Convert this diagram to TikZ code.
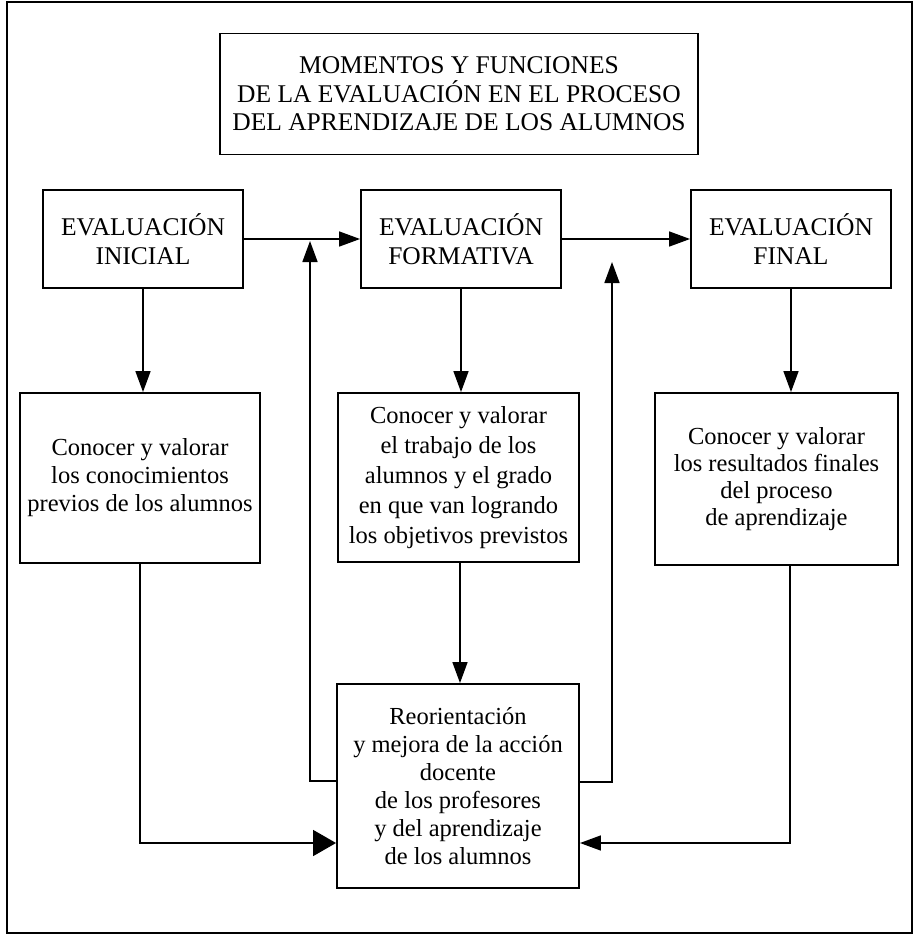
\documentclass[tikz,border=0pt]{standalone}
\usepackage{fontspec}
\setmainfont{Liberation Serif}
\usetikzlibrary{arrows.meta,calc}
\tikzset{
  box/.style={draw, line width=1.9pt, align=center, inner sep=0pt},
  conn/.style={line width=1.6pt},
  arr/.style={conn, -{Triangle[length=21pt,width=15pt]}},
  bigarr/.style={conn, -{Triangle[length=23pt,width=26pt]}},
  capsfont/.style={font=\fontsize{25.5}{28.5}\selectfont},
  bodyfont/.style={font=\fontsize{24.5}{28}\selectfont},
}
\begin{document}
\begin{tikzpicture}[x=1pt,y=-1pt]
\useasboundingbox (0,0) rectangle (914,935);
\draw[line width=1.6pt] (7,2) rectangle (912,933);
\node[box,capsfont,minimum width=478pt,minimum height=121pt] (title) at (459,94)
  {MOMENTOS Y FUNCIONES\\DE LA EVALUACIÓN EN EL PROCESO\\DEL APRENDIZAJE DE LOS ALUMNOS};
\node[box,capsfont,minimum width=200pt,minimum height=98pt] (ini) at (143,239) {EVALUACIÓN\\INICIAL};
\node[box,capsfont,minimum width=200pt,minimum height=98pt] (form) at (461,239) {EVALUACIÓN\\FORMATIVA};
\node[box,capsfont,minimum width=200pt,minimum height=98pt] (fin) at (791,239) {EVALUACIÓN\\FINAL};
\node[box,bodyfont,minimum width=240pt,minimum height=170pt] (dini) at (140,478)
  {Conocer y valorar\\los conocimientos\\previos de los alumnos};
\node[box,font=\fontsize{24.5}{30}\selectfont,minimum width=241pt,minimum height=169pt] (dform) at (458.5,477.5)
  {Conocer y valorar\\el trabajo de los\\alumnos y el grado\\en que van logrando\\los objetivos previstos};
\node[box,font=\fontsize{24.5}{27}\selectfont,minimum width=243pt,minimum height=172pt] (dfin) at (776.5,479)
  {Conocer y valorar\\los resultados finales\\del proceso\\de aprendizaje};
\node[box,bodyfont,minimum width=242pt,minimum height=204pt] (reo) at (458,786)
  {Reorientación\\y mejora de la acción\\docente\\de los profesores\\y del aprendizaje\\de los alumnos};
\coordinate (upL) at (310,241);
\coordinate (upR) at (612,262);
\draw[arr] (ini.east) -- (form.west);
\draw[arr] (form.east) -- (fin.west);
\draw[arr] (ini.south) -- (ini.south |- dini.north);
\draw[arr] (form.south) -- (form.south |- dform.north);
\draw[arr] (fin.south) -- (fin.south |- dfin.north);
\draw[arr] (460,0 |- dform.south) -- (460,0 |- reo.north);
\draw[arr] ([yshift=5pt]reo.west) -| (upL);
\draw[arr] ([yshift=4pt]reo.east) -| (upR);
\draw[bigarr] (dini.south) |- ([yshift=-57pt]reo.west);
\draw[arr] (790,0 |- dfin.south) |- ([yshift=-57pt]reo.east);
\end{tikzpicture}
\end{document}
